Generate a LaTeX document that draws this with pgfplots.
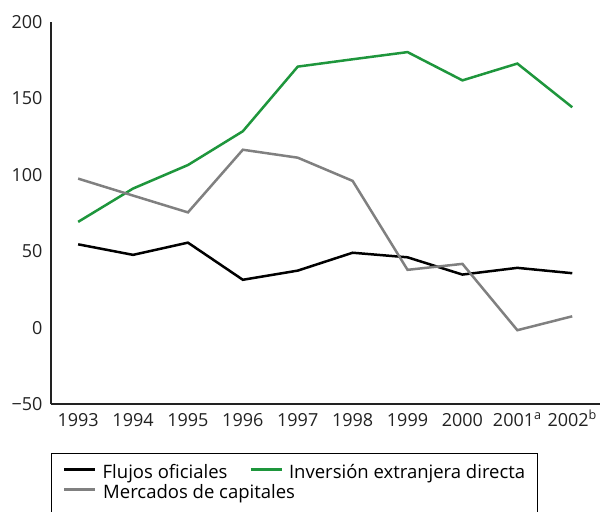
\documentclass[border=0pt]{standalone}
\usepackage{fontspec}
\setmainfont{Open Sans}
\usepackage{pgfplots}
\pgfplotsset{compat=1.18}
\definecolor{fdi}{RGB}{30,150,60}
\definecolor{mkt}{RGB}{128,128,128}
\definecolor{axc}{RGB}{34,34,34}
\begin{document}
\fontsize{18bp}{20bp}\selectfont
\begin{tikzpicture}
\begin{axis}[name=ax, scale only axis, width=549bp, height=382bp,
  xmin=1992.5, xmax=2002.5, ymin=-50, ymax=200,
  axis x line=bottom, axis y line=left,
  axis line style={line width=1.8bp, -, color=axc},
  xtick={1993,...,2002},
  xticklabels={1993,1994,1995,1996,1997,1998,1999,2000,2001\textsuperscript{a},2002\textsuperscript{b}},
  ytick={-50,0,50,100,150,200},
  yticklabels={−50,0,50,100,150,200},
  major tick length=0pt,
  tick label style={font=\fontsize{18bp}{20bp}\selectfont, text=axc},
  xticklabel style={anchor=north, text height=13bp, text depth=0bp, inner sep=0pt, yshift=-9bp},
  yticklabel style={xshift=-2bp},
  legend columns=2,
  legend style={at={(0,-0.128)}, anchor=north west, draw=black, line width=1bp,
    font=\fontsize{18.5bp}{20bp}\selectfont, inner xsep=12bp, inner ysep=11bp,
    nodes={inner sep=0pt, text height=14bp, text depth=6bp},
    /tikz/every odd column/.append style={column sep=6bp},
    /tikz/every even column/.append style={column sep=22bp}},
  legend cell align=left,
  legend image code/.code={\draw[#1, line width=2.5bp] (0bp,5bp) -- (31bp,5bp);},
  every axis plot/.append style={line width=2.5bp, line join=miter},
]
\addplot[black, no marks] coordinates {(1993,54.5)(1994,47.6)(1995,55.6)(1996,31.3)(1997,37.3)(1998,49.0)(1999,46.0)(2000,34.7)(2001,39.1)(2002,35.6)};
\addlegendentry{Flujos oficiales}
\addplot[fdi, no marks] coordinates {(1993,69.2)(1994,91.0)(1995,106.4)(1996,128.5)(1997,170.8)(1998,175.6)(1999,180.3)(2000,161.8)(2001,172.8)(2002,144.2)};
\addlegendentry{Inversión extranjera directa}
\addplot[mkt, no marks] coordinates {(1993,97.5)(1994,86.4)(1995,75.4)(1996,116.4)(1997,111.2)(1998,96.0)(1999,37.8)(2000,41.7)(2001,-1.7)(2002,7.4)};
\addlegendentry{\makebox[0pt][l]{Mercados de capitales}}
\end{axis}
\pgfresetboundingbox
\path[use as bounding box] (ax.south west) ++(-50.7bp,-108bp) rectangle ++(601bp,512bp);
\end{tikzpicture}
\end{document}
